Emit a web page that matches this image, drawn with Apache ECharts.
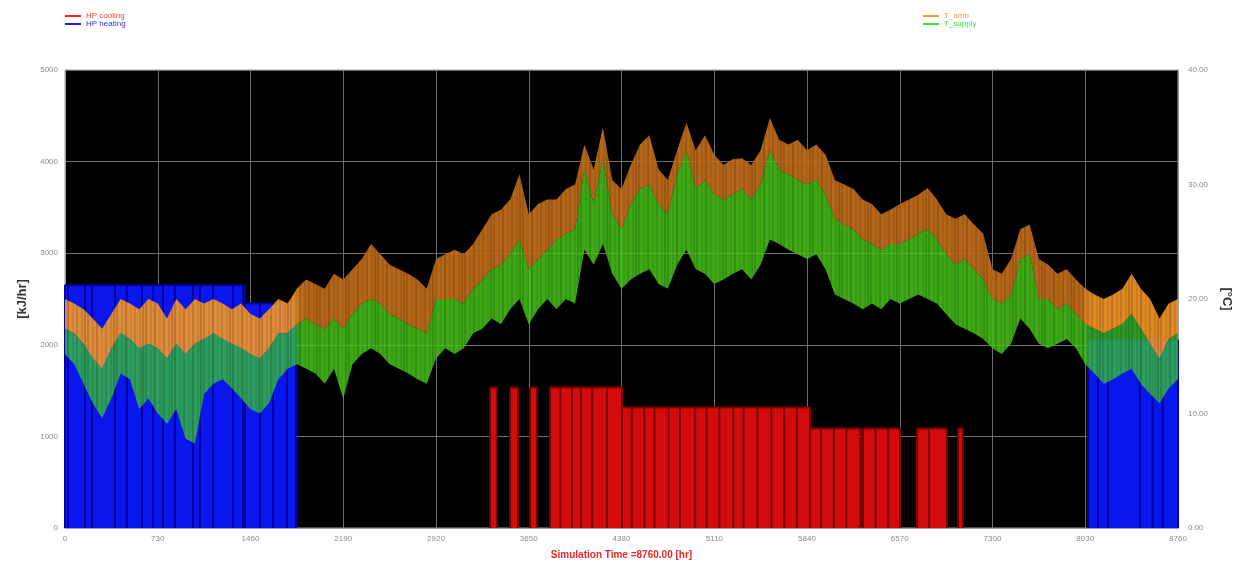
<!DOCTYPE html>
<html>
<head>
<meta charset="utf-8">
<script src="https://cdn.jsdelivr.net/npm/echarts@6/dist/echarts.min.js"></script>
<style>
  html, body { margin: 0; padding: 0; background: #fff; }
  #chart { width: 1245px; height: 565px; }
</style>
</head>
<body>
<div id="chart"></div>
<script>
// Hour-axis ticks (one year of hourly simulation)
const xTicks = [0, 730, 1460, 2190, 2920, 3650, 4380, 5110, 5840, 6570, 7300, 8030, 8760];

// Heat pump operating runs: [start hr, end hr, kJ/hr]
const heatingRuns = [
  [0, 24, 2650], [24, 157, 2650], [157, 213, 2650], [213, 394, 2650], [394, 488, 2650],
  [488, 606, 2650], [606, 693, 2650], [693, 771, 2650], [771, 866, 2650], [866, 1007, 2650],
  [1007, 1063, 2650], [1063, 1165, 2650], [1165, 1322, 2650], [1322, 1401, 2650], [1401, 1417, 2650],
  [1417, 1535, 2450], [1535, 1637, 2450], [1637, 1747, 2450], [1747, 1818, 2450],
  [8052, 8130, 2050], [8130, 8210, 2050], [8210, 8460, 2050], [8460, 8560, 2050],
  [8560, 8640, 2050], [8640, 8760, 2050]
];
const coolingRuns = [
  [3345, 3400, 1533], [3503, 3566, 1533], [3660, 3715, 1533],
  [3817, 3900, 1533], [3900, 3990, 1533], [3990, 4060, 1533], [4060, 4150, 1533], [4150, 4266, 1533], [4266, 4384, 1533],
  [4384, 4460, 1315], [4460, 4560, 1315], [4560, 4640, 1315], [4640, 4750, 1315], [4750, 4840, 1315],
  [4840, 4960, 1315], [4960, 5050, 1315], [5050, 5150, 1315], [5150, 5260, 1315], [5260, 5340, 1315],
  [5340, 5450, 1315], [5450, 5560, 1315], [5560, 5660, 1315], [5660, 5760, 1315], [5760, 5864, 1315],
  [5864, 5950, 1087], [5950, 6050, 1087], [6050, 6150, 1087], [6150, 6257, 1087],
  [6281, 6380, 1087], [6380, 6480, 1087], [6480, 6572, 1087],
  [6706, 6800, 1087], [6800, 6942, 1087],
  [7029, 7068, 1087]
];

// Temperature envelopes, one value every 73 hours (°C)
const STEP = 73;
const tAmbHigh = [
  20.0, 19.6, 19.1, 18.3, 17.4, 18.7, 20.0, 19.6, 19.1, 20.0, 19.6, 18.3, 20.0, 19.1, 20.0, 19.6,
  20.0, 19.6, 19.1, 19.6, 18.7, 18.3, 19.1, 20.0, 19.6, 20.9, 21.7, 21.3, 20.9, 22.2, 21.7, 22.6,
  23.5, 24.8, 23.9, 23.0, 22.6, 22.2, 21.7, 20.9, 23.5, 23.9, 24.3, 23.9, 24.8, 26.1, 27.4, 27.8,
  28.7, 30.9, 27.4, 28.3, 28.7, 28.7, 29.6, 30.0, 33.5, 31.3, 35.0, 30.4, 29.6, 31.7, 33.5, 34.3,
  31.3, 30.4, 33.0, 35.4, 33.0, 34.3, 32.6, 31.7, 32.2, 32.3, 31.7, 33.0, 35.8, 33.9, 33.5, 33.9,
  33.0, 33.5, 32.6, 30.4, 30.0, 29.6, 28.7, 28.3, 27.4, 27.8, 28.3, 28.7, 29.1, 29.7, 28.7, 27.4,
  27.0, 27.4, 26.5, 25.7, 22.6, 22.2, 23.5, 26.1, 26.5, 23.5, 23.0, 22.2, 22.6, 21.7, 20.9, 20.4,
  20.0, 20.4, 20.9, 22.2, 20.9, 20.0, 18.3, 19.6, 20.0
];
const tSupplyHigh = [
  17.4, 17.0, 16.1, 14.8, 13.9, 15.7, 17.0, 16.5, 15.7, 16.1, 15.7, 14.8, 16.1, 15.2, 16.1, 16.5,
  17.0, 16.5, 16.1, 15.7, 15.2, 14.8, 15.7, 17.0, 17.0, 17.8, 18.3, 17.8, 17.4, 18.3, 17.4, 18.7,
  19.6, 20.0, 19.6, 18.7, 18.3, 17.8, 17.4, 17.0, 20.0, 20.0, 20.0, 19.6, 20.9, 21.7, 22.6, 23.0,
  23.9, 25.2, 22.6, 23.5, 24.3, 25.2, 25.7, 26.1, 31.3, 28.3, 32.2, 27.4, 26.1, 28.3, 29.6, 30.0,
  28.3, 27.4, 30.9, 33.0, 29.6, 30.4, 29.1, 28.7, 29.1, 29.6, 28.7, 30.0, 33.0, 31.3, 30.9, 30.4,
  30.0, 30.4, 29.1, 27.0, 26.5, 26.1, 25.2, 24.8, 24.3, 24.8, 24.8, 25.2, 25.7, 26.1, 25.2, 23.9,
  23.0, 23.5, 22.6, 21.7, 20.0, 19.6, 20.4, 23.5, 23.9, 20.0, 20.0, 19.1, 19.6, 18.7, 17.8, 17.4,
  17.0, 17.4, 17.8, 18.7, 17.4, 16.1, 14.8, 16.5, 17.0
];
const tSupplyLow = [
  15.2, 14.3, 12.6, 10.9, 9.6, 11.3, 13.5, 13.0, 10.4, 11.3, 10.0, 9.1, 10.4, 7.8, 7.4, 11.7,
  12.6, 13.0, 12.2, 11.3, 10.4, 10.0, 10.9, 13.0, 13.9, 14.3, 13.9, 13.5, 12.6, 13.9, 11.3, 14.3,
  15.2, 15.7, 15.2, 14.3, 13.9, 13.5, 13.0, 12.6, 14.8, 15.7, 15.2, 15.7, 17.0, 17.4, 18.3, 17.8,
  19.1, 20.0, 17.8, 19.1, 20.0, 19.1, 20.0, 19.6, 24.3, 23.0, 24.8, 22.2, 20.9, 21.7, 22.2, 22.6,
  21.3, 20.9, 23.0, 24.3, 22.6, 22.2, 21.3, 21.7, 22.2, 22.6, 21.7, 23.0, 25.2, 24.8, 24.3, 23.9,
  23.5, 23.9, 22.6, 20.4, 20.0, 19.6, 19.1, 19.6, 19.1, 20.0, 19.6, 20.0, 20.4, 20.0, 19.6, 18.7,
  17.8, 17.4, 17.0, 16.5, 15.7, 15.2, 16.1, 18.3, 17.4, 16.1, 15.7, 16.1, 16.5, 15.7, 14.3, 13.5,
  12.6, 13.0, 13.5, 13.9, 12.6, 11.7, 10.9, 12.2, 13.0
];

// Builds a stepped outline from operating runs; a zero-width dip marks each cycling break,
// and a null splits the outline wherever the pump stays off
function runsToPoints(runs) {
  const pts = [];
  runs.forEach((r, i) => {
    if (i > 0 && runs[i - 1][1] !== r[0]) pts.push(null);
    pts.push([r[0], 0], [r[0], r[2]], [r[1], r[2]], [r[1], 0]);
  });
  return pts;
}

// Soft, uneven vertical streaks for the dense hourly trace
function makeStreaks() {
  const c = document.createElement('canvas');
  c.width = 29; c.height = 4;
  const g = c.getContext('2d');
  [[0, 0.14], [5, 0.08], [9, 0.16], [14, 0.07], [18, 0.12], [23, 0.09], [26, 0.15]].forEach(s => {
    g.fillStyle = 'rgba(0,0,0,' + s[1] + ')';
    g.fillRect(s[0], 0, 2, 4);
  });
  return c;
}
const streaks = makeStreaks();

// Filled band between a low and a high envelope, drawn as one polygon on the °C axis
function bandSeries(name, legendColor, fill, lo, hi, z) {
  return {
    type: 'custom',
    name: name,
    yAxisIndex: 1,
    z: z,
    clip: true,
    itemStyle: { color: legendColor },
    data: hi.map((v, i) => [i * STEP, lo[i], v]),
    encode: { x: 0, y: [1, 2] },
    renderItem: function (params, api) {
      if (params.dataIndex !== 0) return null;
      const top = [], bottom = [];
      for (let i = 0; i < hi.length; i++) {
        top.push(api.coord([i * STEP, hi[i]]));
        bottom.push(api.coord([i * STEP, lo[i]]));
      }
      const pts = top.concat(bottom.reverse());
      return {
        type: 'group',
        children: [
          { type: 'polygon', shape: { points: pts }, style: { fill: fill, stroke: null } },
          { type: 'polygon', shape: { points: pts }, style: { fill: { image: streaks, repeat: 'repeat' }, stroke: null } }
        ]
      };
    }
  };
}

// Fill tones: brighter over the heating blocks, deeper over the black background
const orangeFill = new echarts.graphic.LinearGradient(0, 0, 1, 0, [
  { offset: 0, color: 'rgba(246,152,40,0.90)' },
  { offset: 0.205, color: 'rgba(246,152,40,0.90)' },
  { offset: 0.215, color: 'rgba(196,110,26,0.92)' },
  { offset: 0.912, color: 'rgba(196,110,26,0.92)' },
  { offset: 0.922, color: 'rgba(246,152,40,0.90)' },
  { offset: 1, color: 'rgba(246,152,40,0.90)' }
]);
const greenFill = new echarts.graphic.LinearGradient(0, 0, 1, 0, [
  { offset: 0, color: 'rgba(56,200,52,0.76)' },
  { offset: 0.205, color: 'rgba(56,200,52,0.76)' },
  { offset: 0.215, color: 'rgba(74,206,26,0.82)' },
  { offset: 0.912, color: 'rgba(74,206,26,0.82)' },
  { offset: 0.922, color: 'rgba(56,200,52,0.76)' },
  { offset: 1, color: 'rgba(56,200,52,0.76)' }
]);

const chart = echarts.init(document.getElementById('chart'), null, { renderer: 'canvas' });

const axisLabelStyle = { fontSize: 8, color: '#8a8a8a', fontFamily: 'Liberation Sans, Arial, sans-serif' };

chart.setOption({
  animation: false,
  backgroundColor: '#ffffff',
  textStyle: { fontFamily: 'Liberation Sans, Arial, sans-serif' },
  legend: [
    {
      left: 60, top: 7, orient: 'vertical', itemGap: 0, itemWidth: 16, itemHeight: 2, icon: 'rect',
      textStyle: { fontSize: 8 },
      data: [
        { name: 'HP cooling', textStyle: { color: '#f04040' } },
        { name: 'HP heating', textStyle: { color: '#3030f0' } }
      ]
    },
    {
      left: 918, top: 7, orient: 'vertical', itemGap: 0, itemWidth: 16, itemHeight: 2, icon: 'rect',
      textStyle: { fontSize: 8 },
      data: [
        { name: 'T_amb', textStyle: { color: '#f0a040' } },
        { name: 'T_supply', textStyle: { color: '#40e040' } }
      ]
    }
  ],
  grid: {
    left: 65, right: 67, top: 70, bottom: 35,
    show: true, backgroundColor: '#000000', borderColor: '#9a9a9a', borderWidth: 1
  },
  xAxis: {
    type: 'value', min: 0, max: 8760, interval: 730,
    axisLine: { show: true, lineStyle: { color: '#a0a0a0' } },
    axisTick: { show: false },
    axisLabel: Object.assign({ margin: 7, formatter: v => String(v) }, axisLabelStyle),
    splitLine: { show: true, lineStyle: { color: '#6e6e6e', width: 1 } },
    name: 'Simulation Time =8760.00 [hr]',
    nameLocation: 'middle', nameGap: 22,
    nameTextStyle: { color: '#e82828', fontWeight: 'bold', fontSize: 10 }
  },
  yAxis: [
    {
      type: 'value', min: 0, max: 5000, interval: 1000,
      axisLine: { show: true, lineStyle: { color: '#a0a0a0' } },
      axisTick: { show: false },
      axisLabel: Object.assign({ margin: 7, formatter: v => String(v) }, axisLabelStyle),
      splitLine: { show: true, lineStyle: { color: '#6e6e6e', width: 1 } },
      name: '[kJ/hr]', nameLocation: 'middle', nameGap: 36, nameRotate: 90,
      nameTextStyle: { color: '#333', fontWeight: 'bold', fontSize: 13 }
    },
    {
      type: 'value', min: 0, max: 40, interval: 10, position: 'right',
      axisLine: { show: true, lineStyle: { color: '#a0a0a0' } },
      axisTick: { show: false },
      axisLabel: Object.assign({ margin: 10, formatter: v => v.toFixed(2) }, axisLabelStyle),
      splitLine: { show: false },
      name: '[°C]', nameLocation: 'middle', nameGap: 42, nameRotate: -90,
      nameTextStyle: { color: '#333', fontWeight: 'bold', fontSize: 13 }
    }
  ],
  series: [
    {
      name: 'HP heating', type: 'line', yAxisIndex: 0, z: 2,
      symbol: 'none', color: '#1a1aff', connectNulls: false,
      data: runsToPoints(heatingRuns),
      lineStyle: { color: '#0000a0', width: 2 },
      areaStyle: { color: '#0a16ee', opacity: 1 }
    },
    {
      name: 'HP cooling', type: 'line', yAxisIndex: 0, z: 3,
      symbol: 'none', color: '#ff2020', connectNulls: false,
      data: runsToPoints(coolingRuns),
      lineStyle: { color: '#7a0000', width: 2 },
      areaStyle: { color: '#d20c0c', opacity: 1 }
    },
    bandSeries('T_amb', '#f0a040', orangeFill, tSupplyHigh, tAmbHigh, 4),
    bandSeries('T_supply', '#40e040', greenFill, tSupplyLow, tSupplyHigh, 5)
  ]
});
</script>
</body>
</html>
